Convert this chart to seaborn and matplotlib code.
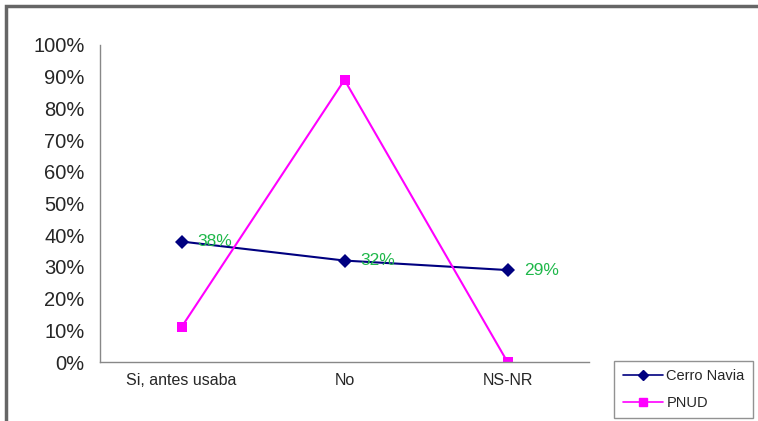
import pandas as pd
import seaborn as sns
from matplotlib import pyplot as plt
from matplotlib.patches import Rectangle

## Data
categories = ['Si, antes usaba', 'No', 'NS-NR']
cerro_navia = [0.38, 0.32, 0.29]
pnud = [0.11, 0.89, 0.0]
series_names = ['Cerro Navia', 'PNUD']
point_labels = ['38%', '32%', '29%']

df = pd.DataFrame({
    'pos': list(range(len(categories))) * 2,
    'value': cerro_navia + pnud,
    'serie': [series_names[0]] * 3 + [series_names[1]] * 3,
})

sns.set_style('white')
plt.rcParams['font.family'] = ['Liberation Sans', 'DejaVu Sans']

fig = plt.figure(figsize=(7.58, 4.21), dpi=100)
ax = fig.add_axes([100 / 758, 1 - 362 / 421, 489 / 758, 317 / 421])

ax = sns.lineplot(data=df, x='pos', y='value', hue='serie', style='serie',
                  palette={'Cerro Navia': '#000080', 'PNUD': '#ff00ff'},
                  markers={'Cerro Navia': 'D', 'PNUD': 's'},
                  dashes=False, markersize=7, linewidth=1.5,
                  markeredgewidth=0, ax=ax, legend=False)

## Green value labels next to Cerro Navia points
for i, txt in enumerate(point_labels):
    ax.text(i + 0.1, cerro_navia[i], txt, color='#1fb84a', fontsize=12.5,
            va='center', ha='left')

ax.set_xlim(-0.5, 2.5)
ax.set_ylim(0, 1)
ax.set_yticks([i / 10 for i in range(11)])
ax.set_yticklabels([f'{i * 10}%' for i in range(11)], fontsize=14.5)
ax.set_xticks([0.5, 1.5])
ax.set_xticklabels([])
ax.set_xticks(range(3), labels=categories, minor=True)
ax.tick_params(axis='x', which='minor', length=0, pad=8, labelsize=11.5)
ax.tick_params(axis='x', which='major', length=5, direction='out', color='#777777')
ax.tick_params(axis='y', length=6, direction='out', color='#777777', pad=5)
ax.set_xlabel('')
ax.set_ylabel('')
for side in ['top', 'right']:
    ax.spines[side].set_visible(False)
for side in ['left', 'bottom']:
    ax.spines[side].set_color('#888888')
    ax.spines[side].set_linewidth(1)

## Legend
handles = [
    plt.Line2D([], [], color='#000080', marker='D', markersize=5, linewidth=1.2),
    plt.Line2D([], [], color='#ff00ff', marker='s', markersize=6, linewidth=1.2),
]
fig.legend(handles, series_names, loc='center',
           bbox_to_anchor=(610 / 758, 2 / 421, 147 / 758, 59 / 421),
           frameon=True, fancybox=False, edgecolor='#777777',
           fontsize=10.5, handlelength=2.8, handletextpad=0.2, borderpad=0.6,
           labelspacing=0.85, borderaxespad=0)

## Outer frame of the picture
fig.patches.append(Rectangle((6 / 758, -0.05), 2, 1 - 6 / 421 + 0.05,
                             transform=fig.transFigure, fill=False,
                             edgecolor='#666666', linewidth=2.5))

fig.savefig('out.png', dpi=100)
